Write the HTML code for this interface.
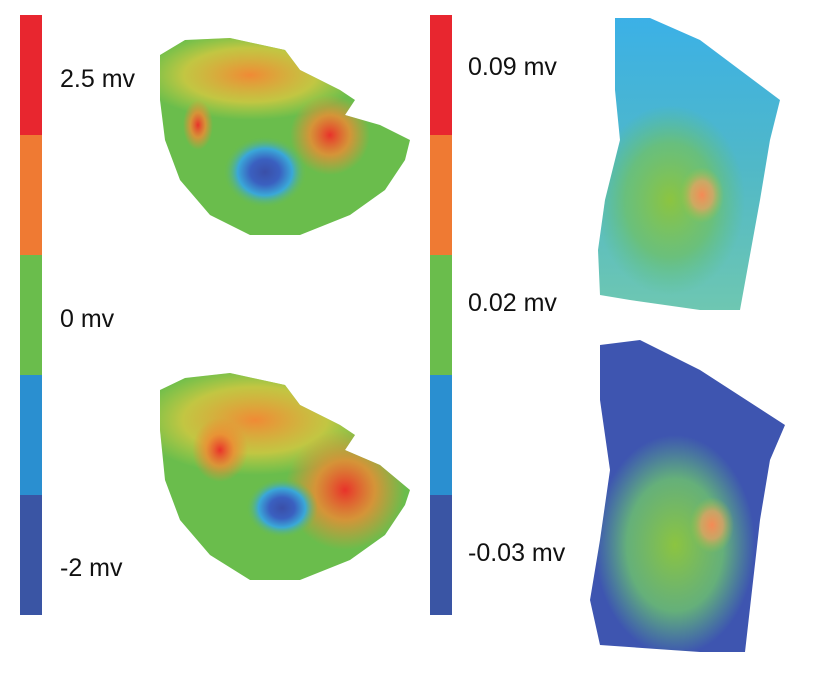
<!DOCTYPE html>
<html><head><meta charset="utf-8"><style>
body{margin:0;background:#fff;width:824px;height:684px;overflow:hidden}
svg text{font-family:"Liberation Sans",sans-serif;font-size:25px;fill:#111}
</style></head><body>
<svg width="824" height="684">
<defs>
<radialGradient id="tlBlue" cx="0.5" cy="0.5" r="0.5"><stop offset="0" stop-color="#3a4fa8"/><stop offset="0.35" stop-color="#3a60c0"/><stop offset="0.65" stop-color="#3aa8d8"/><stop offset="1" stop-color="#6abd4c" stop-opacity="0"/></radialGradient>
<radialGradient id="red" cx="0.5" cy="0.5" r="0.5"><stop offset="0" stop-color="#e8322a"/><stop offset="0.5" stop-color="#ef8a33" stop-opacity="0.8"/><stop offset="1" stop-color="#ef8a33" stop-opacity="0"/></radialGradient>
<radialGradient id="orange" cx="0.5" cy="0.5" r="0.5"><stop offset="0" stop-color="#f08a35"/><stop offset="0.6" stop-color="#d8c840" stop-opacity="0.8"/><stop offset="1" stop-color="#c8d040" stop-opacity="0"/></radialGradient>
<radialGradient id="green" cx="0.5" cy="0.5" r="0.5"><stop offset="0" stop-color="#8cc440"/><stop offset="0.6" stop-color="#6cc070" stop-opacity="0.85"/><stop offset="1" stop-color="#5cc080" stop-opacity="0"/></radialGradient>
<radialGradient id="spot" cx="0.5" cy="0.5" r="0.5"><stop offset="0" stop-color="#f58a55"/><stop offset="0.5" stop-color="#f0a060" stop-opacity="0.7"/><stop offset="1" stop-color="#a0c840" stop-opacity="0"/></radialGradient>
<linearGradient id="rtBg" x1="0" y1="0" x2="0" y2="1"><stop offset="0" stop-color="#3ab0e8"/><stop offset="0.5" stop-color="#50b8c8"/><stop offset="1" stop-color="#70c8b0"/></linearGradient>
<clipPath id="c1"><polygon points="160,55 185,40 230,38 285,50 300,70 340,90 355,100 345,115 380,125 410,140 405,160 385,190 350,215 300,235 250,235 210,215 180,180 165,140 160,100"/></clipPath>
<clipPath id="c2"><polygon points="160,390 185,378 230,373 285,385 300,405 340,425 355,435 345,450 380,465 410,490 405,505 385,535 350,560 300,580 250,580 210,555 180,520 165,480 160,430"/></clipPath>
<clipPath id="c3"><polygon points="615,18 650,18 700,40 780,100 770,140 760,200 740,310 700,310 630,300 600,295 598,250 605,200 620,140 615,90"/></clipPath>
<clipPath id="c4"><polygon points="600,345 640,340 700,370 785,425 770,460 760,520 745,652 700,652 600,645 590,600 600,540 610,470 600,400"/></clipPath>
</defs>

<g id="bars"></g>

<g clip-path="url(#c1)">
<rect x="150" y="30" width="270" height="215" fill="#6abd4c"/>
<ellipse cx="250" cy="75" rx="110" ry="45" fill="url(#orange)"/>
<ellipse cx="330" cy="135" rx="40" ry="40" fill="url(#red)"/>
<ellipse cx="198" cy="125" rx="15" ry="25" fill="url(#red)"/>
<ellipse cx="265" cy="172" rx="42" ry="36" fill="url(#tlBlue)"/>
</g>
<g clip-path="url(#c2)">
<rect x="150" y="365" width="270" height="225" fill="#6abd4c"/>
<ellipse cx="255" cy="420" rx="120" ry="55" fill="url(#orange)"/>
<ellipse cx="345" cy="490" rx="60" ry="60" fill="url(#red)"/>
<ellipse cx="220" cy="450" rx="28" ry="32" fill="url(#red)"/>
<ellipse cx="282" cy="508" rx="36" ry="30" fill="url(#tlBlue)"/>
</g>
<g clip-path="url(#c3)">
<rect x="590" y="10" width="200" height="310" fill="url(#rtBg)"/>
<ellipse cx="670" cy="200" rx="75" ry="95" fill="url(#green)"/>
<ellipse cx="702" cy="195" rx="22" ry="28" fill="url(#spot)"/>
</g>
<g clip-path="url(#c4)">
<rect x="580" y="335" width="210" height="325" fill="#3e55b0"/>
<ellipse cx="675" cy="545" rx="80" ry="110" fill="url(#green)"/>
<ellipse cx="712" cy="525" rx="22" ry="28" fill="url(#spot)"/>
</g>
</svg>
<script>
const colors=["#e8262f","#ef7a33","#6abd4c","#2a8fd0","#3a55a4"];
const leftLabels=["2.5 mv","0 mv","-2 mv"];
const rightLabels=["0.09 mv","0.02 mv","-0.03 mv"];
const ns="http://www.w3.org/2000/svg";
const g=document.getElementById('bars');
function bar(x,name){
  colors.forEach((c,i)=>{
    const r=document.createElementNS(ns,'rect');
    r.setAttribute('x',x);r.setAttribute('y',15+i*120);
    r.setAttribute('width',22);r.setAttribute('height',120);
    r.setAttribute('fill',c);
    
    
    g.appendChild(r);
  });
}
function labels(x,ys,arr,name){
  arr.forEach((s,i)=>{
    const t=document.createElementNS(ns,'text');
    t.setAttribute('x',x);t.setAttribute('y',ys[i]);
    t.textContent=s;
    
    
    g.appendChild(t);
  });
}
bar(20,'left-colorbar');bar(430,'right-colorbar');
labels(60,[87,327,576],leftLabels,'left-colorbar');
labels(468,[75,311,561],rightLabels,'right-colorbar');
</script>
</body></html>
